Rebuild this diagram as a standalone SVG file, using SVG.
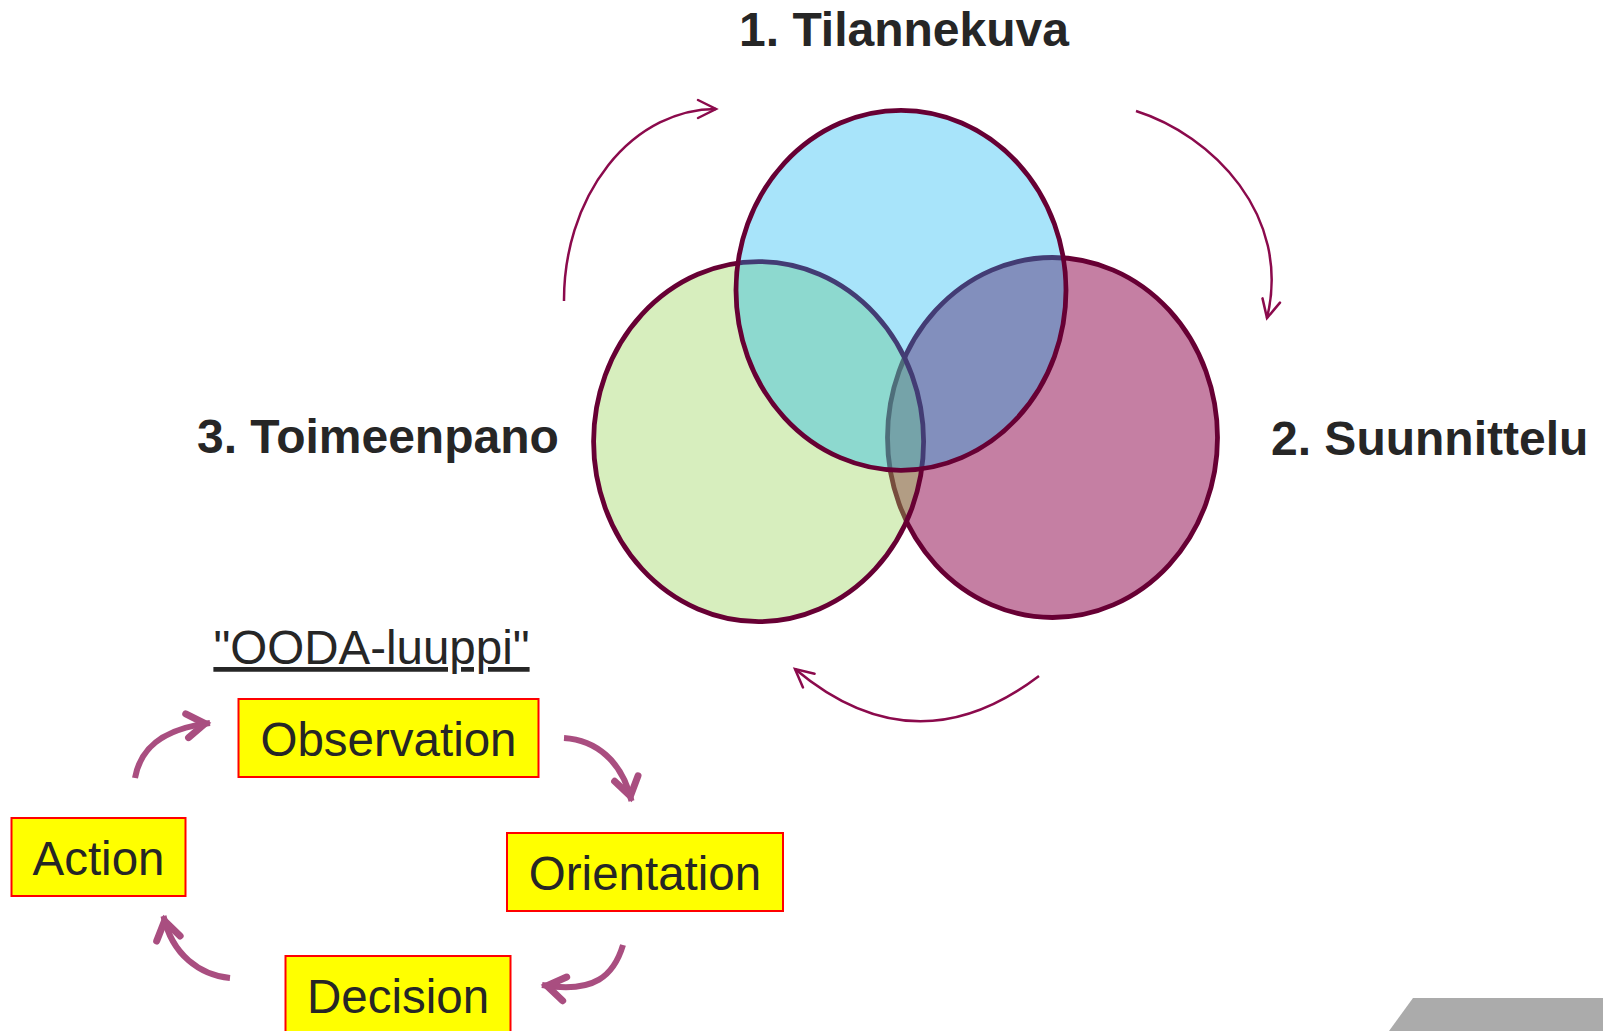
<svg xmlns="http://www.w3.org/2000/svg" width="1603" height="1031" viewBox="0 0 1603 1031">
  <style>
    .heading { font-family: "Liberation Sans", Arial, sans-serif; font-weight: bold; font-size: 48px; fill: #262626; }
    .label { font-family: "Liberation Sans", Arial, sans-serif; font-size: 47.5px; fill: #262626; text-anchor: middle; }
    .venn { stroke: #670034; stroke-width: 4.8; }
    .box { fill: #FFFF00; stroke: #FF0000; stroke-width: 2; }
    .cycle { fill: none; stroke: #8B0A4C; stroke-width: 2.5; }
    .ooda { fill: none; stroke: #A94E80; stroke-width: 6; }
  </style>
  <defs>
    <marker id="thin-head" markerUnits="userSpaceOnUse" orient="auto" refX="0" refY="0" markerWidth="40" markerHeight="40" viewBox="-30 -20 40 40" overflow="visible">
      <path d="M-18,-9 L0,0 L-18,9" fill="none" stroke="#8B0A4C" stroke-width="2.5" stroke-linecap="round" stroke-linejoin="miter"/>
    </marker>
    <marker id="thick-head" markerUnits="userSpaceOnUse" orient="auto" refX="0" refY="0" markerWidth="60" markerHeight="60" viewBox="-40 -30 60 60" overflow="visible">
      <path d="M-23,-12 L-5,0 L-23,12" fill="none" stroke="#A94E80" stroke-width="7" stroke-linecap="round" stroke-linejoin="miter"/>
    </marker>
  </defs>

  <rect width="1603" height="1031" fill="#FFFFFF"/>

  <!-- Venn of the three phases: pink under green under blue -->
  <g id="circle-suunnittelu">
    <ellipse class="venn" cx="1052.5" cy="437.5" rx="165" ry="180" fill="#8C0048" fill-opacity="0.5"/>
  </g>
  <g id="circle-toimeenpano">
    <ellipse class="venn" cx="758.6" cy="441.6" rx="165" ry="180" fill="#92D050" fill-opacity="0.37"/>
  </g>
  <g id="circle-tilannekuva">
    <ellipse class="venn" cx="901" cy="290.3" rx="165" ry="180" fill="#00B0F0" fill-opacity="0.34"/>
  </g>

  <!-- phase titles -->
  <g id="title-tilannekuva">
    <text class="heading" x="904" y="46" text-anchor="middle">1. Tilannekuva</text>
  </g>
  <g id="title-suunnittelu">
    <text class="heading" x="1271" y="455">2. Suunnittelu</text>
  </g>
  <g id="title-toimeenpano">
    <text class="heading" x="197" y="453">3. Toimeenpano</text>
  </g>

  <!-- cycle arrows round the Venn -->
  <g id="cycle-connectors">
    <path class="cycle" d="M564,301 A152,191 0 0 1 716,109" marker-end="url(#thin-head)"/>
    <path class="cycle" d="M1136,111 C1212,135 1292,215 1267,318" marker-end="url(#thin-head)"/>
    <path class="cycle" d="M1039,676 Q915,770 795,669" marker-end="url(#thin-head)"/>
  </g>

  <!-- OODA loop -->
  <g id="ooda-title">
    <text class="label" x="371.5" y="664" text-decoration="underline">"OODA-luuppi"</text>
  </g>
  <g id="ooda-observation">
    <rect class="box" x="238.5" y="699" width="300" height="78"/>
    <text class="label" x="388.5" y="755.5">Observation</text>
  </g>
  <g id="ooda-orientation">
    <rect class="box" x="507" y="833" width="276" height="78"/>
    <text class="label" x="645" y="889.5">Orientation</text>
  </g>
  <g id="ooda-decision">
    <rect class="box" x="285.5" y="956" width="225" height="78"/>
    <text class="label" x="398" y="1012.5">Decision</text>
  </g>
  <g id="ooda-action">
    <rect class="box" x="11.5" y="818" width="174" height="78"/>
    <text class="label" x="98.5" y="875">Action</text>
  </g>

  <g id="ooda-connectors">
    <path class="ooda" d="M135,778 C140,750 160,729 210,723" marker-end="url(#thick-head)"/>
    <path class="ooda" d="M564,738 C595,740 622,760 631.5,801" marker-end="url(#thick-head)"/>
    <path class="ooda" d="M623,945 C614,975 595,994 542,985" marker-end="url(#thick-head)"/>
    <path class="ooda" d="M230,978 C200,975 172,955 163.5,916" marker-end="url(#thick-head)"/>
  </g>

  <!-- grey band in the lower right corner -->
  <polygon points="1413,998 1603,998 1603,1031 1389,1031" fill="#ABABAB"/>
</svg>
